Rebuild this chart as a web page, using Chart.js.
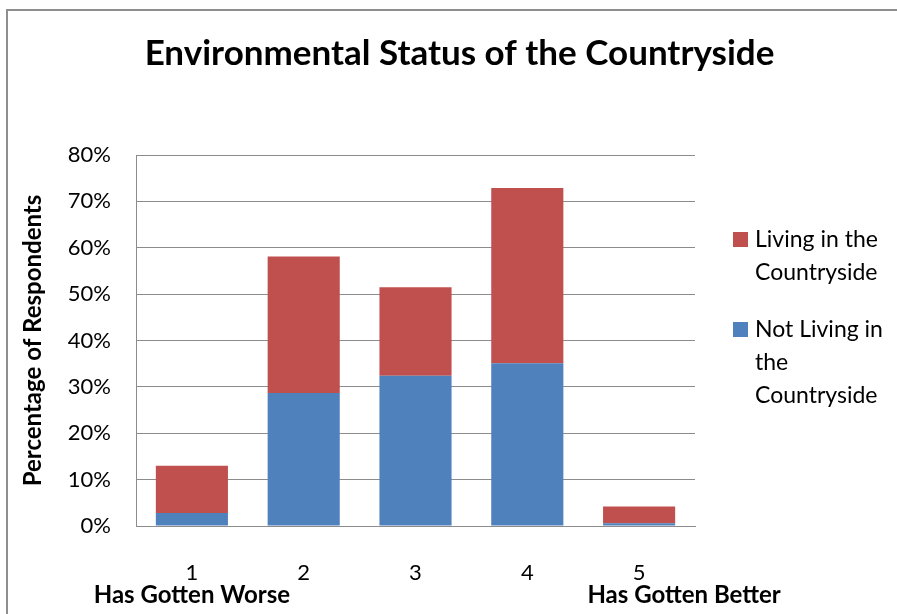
<!DOCTYPE html>
<html>
<head>
<meta charset="utf-8">
<script src="https://cdn.jsdelivr.net/npm/chart.js@4.4.1/dist/chart.umd.min.js"></script>
<style>
  html, body { margin: 0; padding: 0; background: #ffffff; }
  #wrap { position: relative; width: 897px; height: 614px; }
</style>
</head>
<body>
<div id="wrap"><canvas id="c" width="897" height="614"></canvas></div>
<script>
// Survey answers on a 1..5 scale
const categories = ['1', '2', '3', '4', '5'];
// Percent of respondents, split by where they live
const livingValues = [10.2, 29.4, 19.1, 37.8, 3.6];
const notLivingValues = [2.8, 28.7, 32.4, 35.1, 0.6];
const yTickValues = [0, 10, 20, 30, 40, 50, 60, 70, 80];
const seriesNames = ['Living in the Countryside', 'Not Living in the Countryside'];
const legendLines = [['Living in the', 'Countryside'], ['Not Living in', 'the', 'Countryside']];
const scaleEndLabels = ['Has Gotten Worse', 'Has Gotten Better'];

const RED = '#C0504D';
const BLUE = '#4F81BD';
const GRID = '#8c8c8c';
const FONT = 'Lato, "Open Sans", sans-serif';

// Outer frame, custom legend with wrapped text, and the scale end captions
const decorations = {
  id: 'decorations',
  beforeDraw(chart) {
    const ctx = chart.ctx;
    ctx.save();
    ctx.strokeStyle = '#8f8f8f';
    ctx.lineWidth = 2;
    ctx.strokeRect(7, 10, 1000, 1000);
    ctx.restore();
  },
  afterDraw(chart) {
    const ctx = chart.ctx;
    ctx.save();
    // legend
    const entries = [
      { color: RED, lines: legendLines[0], top: 232 },
      { color: BLUE, lines: legendLines[1], top: 322 }
    ];
    ctx.font = '23px ' + FONT;
    ctx.textBaseline = 'middle';
    ctx.textAlign = 'left';
    entries.forEach(e => {
      ctx.fillStyle = e.color;
      ctx.fillRect(733, e.top, 15, 15);
      ctx.fillStyle = '#000';
      e.lines.forEach((ln, i) => {
        ctx.fillText(ln, 755, e.top + 8 + i * 33);
      });
    });
    // scale end captions
    const xs = chart.scales.x;
    ctx.font = 'bold 24px ' + FONT;
    ctx.textAlign = 'center';
    ctx.fillText(scaleEndLabels[0], xs.getPixelForValue(0), 595);
    ctx.fillText(scaleEndLabels[1], xs.getPixelForValue(4) + 45, 595);
    ctx.restore();
  }
};

new Chart(document.getElementById('c'), {
  type: 'bar',
  data: {
    labels: categories,
    datasets: [
      {
        label: seriesNames[1],
        data: notLivingValues,
        backgroundColor: BLUE,
        barPercentage: 0.645,
        categoryPercentage: 1.0
      },
      {
        label: seriesNames[0],
        data: livingValues,
        backgroundColor: RED,
        barPercentage: 0.645,
        categoryPercentage: 1.0
      }
    ]
  },
  options: {
    responsive: false,
    animation: false,
    devicePixelRatio: 1,
    layout: { padding: { left: 22, right: 0, top: 0, bottom: 0 } },
    plugins: {
      legend: { display: false },
      tooltip: { enabled: false },
      title: {
        display: true,
        text: 'Environmental Status of the Countryside',
        color: '#000',
        font: { family: FONT, size: 35, weight: 'bold' },
        padding: { top: 33, bottom: 80 }
      }
    },
    scales: {
      x: {
        stacked: true,
        grid: { display: false },
        border: { display: true, color: GRID, width: 1 },
        ticks: { color: '#000', font: { family: FONT, size: 22 }, padding: 26 },
        afterFit(scale) { scale.height = 88; }
      },
      y: {
        stacked: true,
        min: 0,
        max: 80,
        afterBuildTicks(scale) { scale.ticks = yTickValues.map(v => ({ value: v })); },
        grid: { color: GRID, lineWidth: 1, drawTicks: false },
        border: { display: true, color: GRID, width: 1 },
        ticks: {
          color: '#000',
          font: { family: FONT, size: 22 },
          padding: 25,
          callback: v => v + '%'
        },
        title: {
          display: true,
          text: 'Percentage of Respondents',
          color: '#000',
          font: { family: FONT, size: 24, weight: 'bold' },
          padding: { top: -3, bottom: 0 }
        },
        afterFit(scale) { scale.width = 114; }
      },
      // empty right-hand strip that holds the legend area
      side: {
        type: 'linear',
        position: 'right',
        display: true,
        grid: { display: false },
        border: { display: false },
        ticks: { display: false },
        afterFit(scale) { scale.width = 202; }
      }
    }
  },
  plugins: [decorations]
});
</script>
</body>
</html>
